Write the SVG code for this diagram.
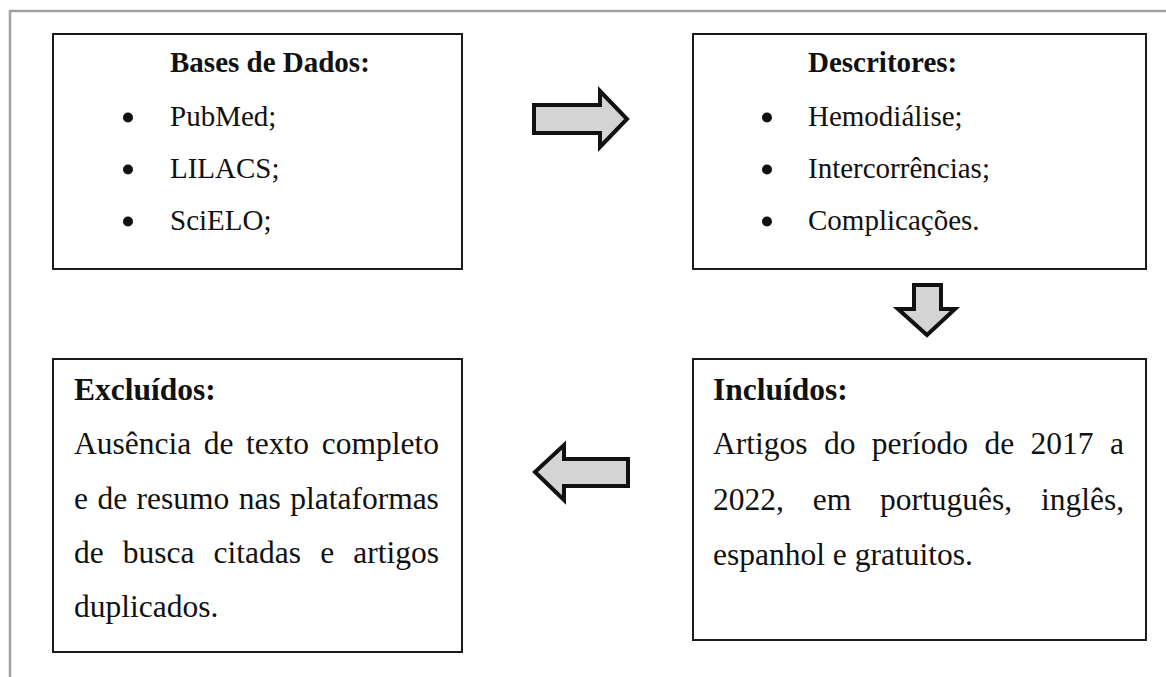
<svg xmlns="http://www.w3.org/2000/svg" width="1166" height="677" viewBox="0 0 1166 677">
<style>
.box{fill:#fff;stroke:#1a1a1a;stroke-width:2}
.t{font-family:"Liberation Serif","Times New Roman",serif;font-size:29px;fill:#111}
.b{font-weight:bold}
.t2{font-family:"Liberation Serif","Times New Roman",serif;font-size:31.5px;fill:#111}
.arr{fill:#d4d4d4;stroke:#111;stroke-width:4;stroke-linejoin:miter}
.dot{fill:#111}
</style>
<rect width="1166" height="677" fill="#fff"/>
<path d="M10,677 L10,11 L1166,11" fill="none" stroke="#a0a0a0" stroke-width="2.5"/>

<g id="bases">
<rect class="box" x="53" y="34" width="409" height="235"/>
<text class="t b" x="170" y="72">Bases de Dados:</text>
<circle class="dot" cx="128" cy="117.5" r="5"/>
<text class="t" x="170" y="126">PubMed;</text>
<circle class="dot" cx="128" cy="169.5" r="5"/>
<text class="t" x="170" y="178">LILACS;</text>
<circle class="dot" cx="128" cy="221.5" r="5"/>
<text class="t" x="170" y="230">SciELO;</text>
</g>

<g id="descritores">
<rect class="box" x="693" y="34" width="453" height="235"/>
<text class="t b" x="808" y="72">Descritores:</text>
<circle class="dot" cx="767" cy="117.5" r="5"/>
<text class="t" x="808" y="126">Hemodiálise;</text>
<circle class="dot" cx="767" cy="169.5" r="5"/>
<text class="t" x="808" y="178">Intercorrências;</text>
<circle class="dot" cx="767" cy="221.5" r="5"/>
<text class="t" x="808" y="230">Complicações.</text>
</g>

<g id="incluidos">
<rect class="box" x="693" y="359" width="453" height="281"/>
<text class="t2 b" x="713" y="400">Incluídos:</text>
<text class="t2" y="454"><tspan x="713">Artigos</tspan><tspan x="823.9">do</tspan><tspan x="871.8">período</tspan><tspan x="984.4">de</tspan><tspan x="1030.5">2017</tspan><tspan x="1109.9">a</tspan></text>
<text class="t2" y="510"><tspan x="713">2022,</tspan><tspan x="812.7">em</tspan><tspan x="880">português,</tspan><tspan x="1040.9">inglês,</tspan></text>
<text class="t2" x="713" y="565">espanhol e gratuitos.</text>
</g>

<g id="excluidos">
<rect class="box" x="53" y="359" width="409" height="293"/>
<text class="t2 b" x="74" y="400">Excluídos:</text>
<text class="t2" y="454"><tspan x="74">Ausência</tspan><tspan x="203.8">de</tspan><tspan x="246.1">texto</tspan><tspan x="321.7">completo</tspan></text>
<text class="t2" y="509"><tspan x="74">e</tspan><tspan x="97.4">de</tspan><tspan x="136.6">resumo</tspan><tspan x="238.8">nas</tspan><tspan x="290.2">plataformas</tspan></text>
<text class="t2" y="563"><tspan x="74">de</tspan><tspan x="122.8">busca</tspan><tspan x="213.6">citadas</tspan><tspan x="320.2">e</tspan><tspan x="353.3">artigos</tspan></text>
<text class="t2" x="74" y="617">duplicados.</text>
</g>

<g id="connectors">
<path class="arr" d="M534,105 L600,105 L600,91 L627,119 L600,147 L600,133 L534,133 Z"/>
<path class="arr" d="M914,285 L941,285 L941,309 L955,309 L927,335 L898,309 L914,309 Z"/>
<path class="arr" d="M628,459 L564,459 L564,445 L535,472 L564,500 L564,486 L628,486 Z"/>
</g>
</svg>
